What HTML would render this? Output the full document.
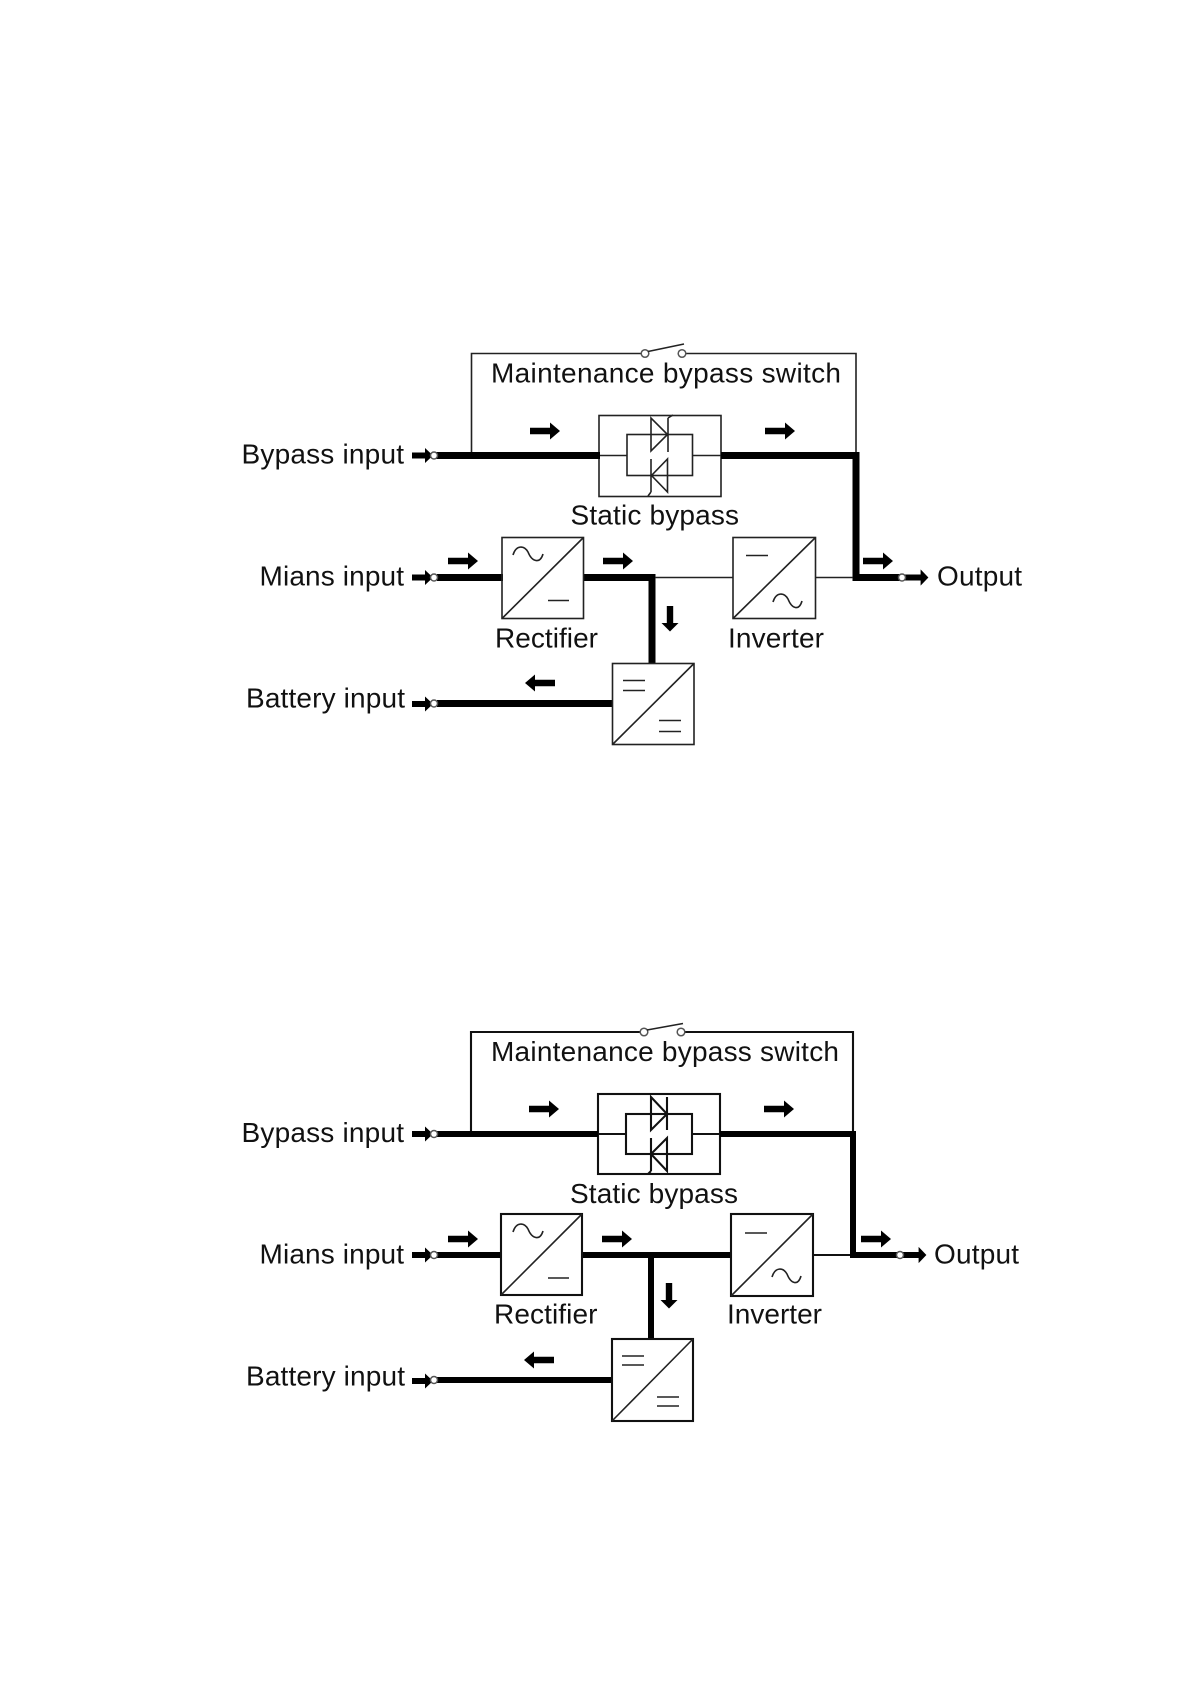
<!DOCTYPE html>
<html>
<head>
<meta charset="utf-8">
<style>
html,body{margin:0;padding:0;background:#fff;width:1190px;height:1684px;overflow:hidden}
svg{display:block;filter:blur(.35px)}
text{font-family:"Liberation Sans",sans-serif;font-size:28px;fill:#111}
.t{fill:none;stroke:#222;stroke-width:1.6}
.b{fill:none;stroke:#111;stroke-width:2.1}
.k{fill:none;stroke:#000;stroke-width:7}
.k2{fill:none;stroke:#000;stroke-width:6}
.c{fill:#fff;stroke:#555;stroke-width:1.5}
</style>
</head>
<body>
<svg width="1190" height="1684" viewBox="0 0 1190 1684" xmlns="http://www.w3.org/2000/svg">
<defs>
<path id="a" d="M0,-3.200 H20 V-8.500 L30,0 L20,8.500 V3.200 H0 Z" fill="#000"/>
<path id="s" d="M0,-3 H13 V-7.500 L21,0 L13,7.500 V3 H0 Z" fill="#000"/>
</defs>

<!-- TOP DIAGRAM -->
<g>
<path class="t" d="M471.500,455 V353.500 H641 M686,353.500 H856 V455"/>
<circle class="c" cx="645" cy="353.500" r="3.800"/>
<circle class="c" cx="682" cy="353.500" r="3.800"/>
<path class="t" d="M648,351.500 L684,344"/>
<rect class="t" x="599" y="415.500" width="122" height="81"/>
<rect class="t" x="627" y="434.500" width="65.500" height="41"/>
<path class="t" d="M600,455.500 H627 M692.500,455.500 H721"/>
<path class="t" d="M651,418 V451 L667.500,434.500 Z M668,418 V452 M668,418 L673,415"/>
<path class="t" d="M667.500,459 V492 L651.500,475.500 Z M651,459 V492 M651,492 L648,496"/>
<path class="k" d="M434,455.500 H600 M721,455.500 H856 V577.500 H902"/>
<path class="k" d="M437,577.500 H503 M583,577.500 H652 V663 M437,703.500 H612"/>
<path class="t" d="M655,577.500 H733 M816,577.500 H853"/>

<rect class="t" x="502" y="537.500" width="81.500" height="81"/>
<path class="t" d="M502,618.500 L583.500,537.500"/>
<path class="t" d="M513,555 C516,545 524,545 528,552 C532,562 540,564 543,554"/>
<path class="t" d="M548,600.500 H569"/>

<rect class="t" x="733" y="537.500" width="82.500" height="81"/>
<path class="t" d="M733,618.500 L815.500,537.500"/>
<path class="t" d="M746,555.500 H768"/>
<path class="t" d="M773,602 C776,592 784,592 788,599 C792,609 799,611 802,601"/>

<rect class="t" x="612.500" y="663.500" width="81.500" height="81"/>
<path class="t" d="M612.500,744.500 L694,663.500"/>
<path class="t" d="M623,680.500 H645 M623,690.500 H645 M659,720.500 H681 M659,731.500 H681"/>

<use href="#a" x="530" y="431"/>
<use href="#a" x="765" y="431"/>
<use href="#a" x="448" y="561"/>
<use href="#a" x="603" y="561"/>
<use href="#a" x="863" y="561"/>
<use href="#a" transform="translate(555,683) rotate(180)"/>
<use href="#a" transform="translate(670,606) rotate(90) scale(.85,1)"/>
<use href="#s" x="412" y="455.500"/>
<use href="#s" x="412" y="577.500"/>
<use href="#s" x="412" y="704"/>
<use href="#a" transform="translate(905,577.500) scale(.78,.95)"/>
<circle class="c" cx="434" cy="455.500" r="3.500"/>
<circle class="c" cx="434" cy="577.500" r="3.500"/>
<circle class="c" cx="434" cy="703.500" r="3.500"/>
<circle class="c" cx="902" cy="577.500" r="3.500"/>

<text x="491" y="382.500" textLength="350" lengthAdjust="spacing">Maintenance bypass switch</text>
<text x="241.500" y="463.500" textLength="162.500" lengthAdjust="spacing">Bypass input</text>
<text x="570.500" y="524.500" textLength="168.500" lengthAdjust="spacing">Static bypass</text>
<text x="259.500" y="585.500" textLength="144.500" lengthAdjust="spacing">Mians input</text>
<text x="937" y="585.500" textLength="85" lengthAdjust="spacing">Output</text>
<text x="495" y="647.500" textLength="103" lengthAdjust="spacing">Rectifier</text>
<text x="728" y="647.500" textLength="96" lengthAdjust="spacing">Inverter</text>
<text x="246" y="707.500" textLength="159" lengthAdjust="spacing">Battery input</text>
</g>

<!-- BOTTOM DIAGRAM -->
<g>
<path class="b" d="M471,1134 V1032 H640 M685,1032 H853 V1134"/>
<circle class="c" cx="644" cy="1032" r="3.800"/>
<circle class="c" cx="681" cy="1032" r="3.800"/>
<path class="t" d="M647,1030 L683,1023.500"/>
<rect class="b" x="598" y="1094" width="122" height="80"/>
<rect class="b" x="626" y="1114" width="66" height="40"/>
<path class="b" d="M598,1134 H626 M692,1134 H720"/>
<path class="b" d="M651,1097 V1130 L667,1114 Z M667,1097 V1130"/>
<path class="b" d="M667,1138 V1171 L651,1154 Z M651,1138 V1171 M651,1171 L648,1174"/>
<path class="k2" d="M434,1134 H598 M720,1134 H853 V1255 H900"/>
<path class="k2" d="M434,1255 H501 M582,1255 H731 M651,1255 V1339 M434,1380 H612"/>
<path class="b" d="M813,1255 H850"/>

<rect class="b" x="501" y="1214" width="81" height="81"/>
<path class="t" d="M501,1295 L582,1214"/>
<path class="t" d="M513,1232 C516,1222 524,1222 528,1229 C532,1239 540,1241 543,1231"/>
<path class="t" d="M548,1278 H569"/>

<rect class="b" x="731" y="1214" width="82" height="82"/>
<path class="t" d="M731,1296 L813,1214"/>
<path class="t" d="M745,1233 H767"/>
<path class="t" d="M772,1277 C775,1267 783,1267 787,1274 C791,1284 798,1286 801,1276"/>

<rect class="b" x="612" y="1339" width="81" height="82"/>
<path class="t" d="M612,1421 L693,1339"/>
<path class="t" d="M622,1356 H644 M622,1365 H644 M657,1397 H679 M657,1406 H679"/>

<use href="#a" x="529" y="1109"/>
<use href="#a" x="764" y="1109"/>
<use href="#a" x="448" y="1239"/>
<use href="#a" x="602" y="1239"/>
<use href="#a" x="861" y="1239"/>
<use href="#a" transform="translate(554,1360) rotate(180)"/>
<use href="#a" transform="translate(669,1283) rotate(90) scale(.85,1)"/>
<use href="#s" x="412" y="1134"/>
<use href="#s" x="412" y="1255"/>
<use href="#s" x="412" y="1381"/>
<use href="#a" transform="translate(903,1255) scale(.78,.95)"/>
<circle class="c" cx="434" cy="1134" r="3.500"/>
<circle class="c" cx="434" cy="1255" r="3.500"/>
<circle class="c" cx="434" cy="1380" r="3.500"/>
<circle class="c" cx="900" cy="1255" r="3.500"/>

<text x="491" y="1061" textLength="348" lengthAdjust="spacing">Maintenance bypass switch</text>
<text x="241.500" y="1142" textLength="162.500" lengthAdjust="spacing">Bypass input</text>
<text x="570" y="1203" textLength="168" lengthAdjust="spacing">Static bypass</text>
<text x="259.500" y="1263.500" textLength="144.500" lengthAdjust="spacing">Mians input</text>
<text x="934" y="1263.500" textLength="85" lengthAdjust="spacing">Output</text>
<text x="494" y="1323.500" textLength="103.500" lengthAdjust="spacing">Rectifier</text>
<text x="727" y="1323.500" textLength="95" lengthAdjust="spacing">Inverter</text>
<text x="246" y="1385.500" textLength="159" lengthAdjust="spacing">Battery input</text>
</g>
</svg>
</body>
</html>
